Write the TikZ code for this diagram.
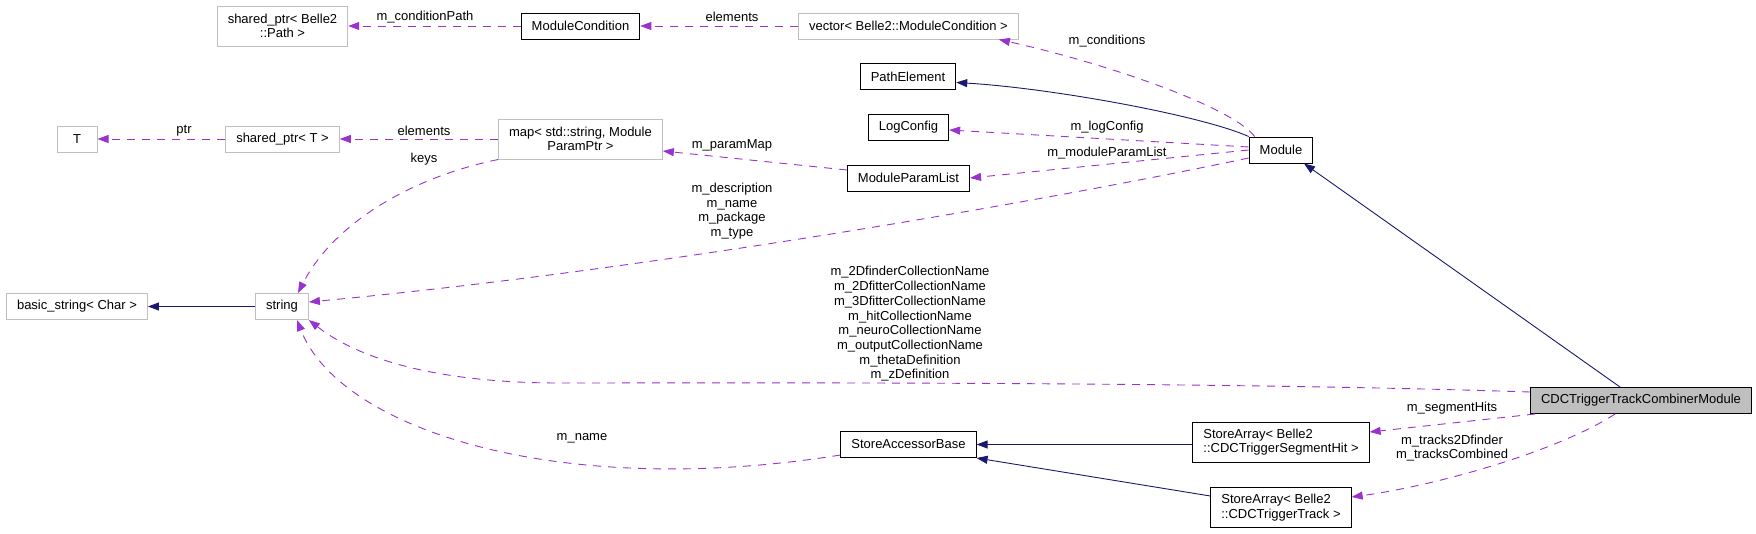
\documentclass[tikz,border=0pt]{standalone}
\usepackage{fontspec}
\setmainfont{Liberation Sans}
\usetikzlibrary{arrows.meta}

\definecolor{usecol}{RGB}{154,50,205}
\definecolor{inhcol}{RGB}{25,25,112}
\definecolor{extcol}{RGB}{191,191,191}

\begin{document}
\begin{tikzpicture}[x=1pt,y=-1pt,
    every node/.style={font=\fontsize{13}{14.7}\selectfont},
    cls/.style={draw=black,line width=1pt,inner xsep=10.5pt,inner ysep=3pt,
      minimum height=26pt,minimum width=40pt},
    ext/.style={cls,draw=extcol},
    main/.style={cls,fill=extcol},
    tall/.style={minimum height=40pt,align=center},
    memberedge/.style={usecol,line width=0.9pt,dash pattern=on 8pt off 7pt,
      -{Triangle[length=11pt,width=8pt]}},
    baseedge/.style={inhcol,line width=0.9pt,-{Triangle[length=11pt,width=8pt]}},
    lbl/.style={inner sep=0pt,align=center}
  ]

    \useasboundingbox[fill=white] (0,0) rectangle (1756,533);

    % ---- Classes ----
    \node[ext,tall] (pathptr) at (282.5,26) {shared\_ptr< Belle2\\::Path >};
    \node[cls] (modcond) at (580.5,26) {ModuleCondition};
    \node[ext] (condvec) at (908.5,26) {vector< Belle2::ModuleCondition >};
    \node[cls] (pathelem) at (908,76.5) {PathElement};
    \node[cls] (logcfg) at (908.5,127.5) {LogConfig};
    \node[cls] (module) at (1281,150) {Module};
    \node[ext] (tnode) at (77,139) {T};
    \node[ext] (tptr) at (282.5,139) {shared\_ptr< T >};
    \node[ext,tall] (parammap) at (580.5,139) {map< std::string, Module\\ParamPtr >};
    \node[cls] (paramlist) at (908.5,178) {ModuleParamList};
    \node[ext] (basicstr) at (77,306.5) {basic\_string< Char >};
    \node[ext] (stringnode) at (282,306.5) {string};
    \node[cls] (accessor) at (908.5,444.5) {StoreAccessorBase};
    \node[cls,tall,align=left] (segarray) at (1281,442) {StoreArray< Belle2\\::CDCTriggerSegmentHit >};
    \node[cls,tall,align=left] (trackarray) at (1281,507.5) {StoreArray< Belle2\\::CDCTriggerTrack >};
    \node[main] (combiner) at (1641,400.5) {CDCTriggerTrackCombinerModule};

    % ---- Heritage ----
    \draw[baseedge] (module.north west) .. controls (1200,115) and (1050,88) .. ([yshift=-6pt]pathelem.east);
    \draw[baseedge] ([xshift=-21pt]combiner.north) -- ([xshift=23pt]module.south);
    \draw[baseedge] (segarray.west |- accessor.east) -- (accessor.east);
    \draw[baseedge] ([yshift=11.5pt]trackarray.west) -- (accessor.south east);
    \draw[baseedge] (stringnode.west) -- (basicstr.east);

    % ---- Membres ----
    \foreach \src/\dst in {modcond/pathptr, condvec/modcond, parammap/tptr, tptr/tnode, module/paramlist}{
        \draw[memberedge] (\src.west) -- (\dst.east);
    }
    \draw[memberedge] ([xshift=6pt]module.north west) .. controls (1230,105) and (1100,62) .. ([xshift=-20pt]condvec.south east);
    \draw[memberedge] ([yshift=3pt]module.west) -- ([yshift=-2.5pt]logcfg.east);
    \draw[memberedge] ([yshift=8pt]paramlist.west) -- ([yshift=-12pt]parammap.east);
    \draw[memberedge] (parammap.south west) .. controls (400,180) and (330,230) .. ([xshift=16pt]stringnode.north);
    \draw[memberedge] ([yshift=-8pt]module.west) .. controls (1050,200) and (650,270) .. ([yshift=4.5pt]stringnode.east);
    \draw[memberedge] ([yshift=8.5pt]combiner.west) .. controls (1200,381) and (700,383) .. (560,383)
        .. controls (440,383) and (360,360) .. (stringnode.south east);
    \draw[memberedge] ([yshift=-10.5pt]accessor.west) .. controls (560,500) and (340,430) .. ([xshift=15pt]stringnode.south);
    \draw[memberedge] ([xshift=-106pt]combiner.south) -- ([yshift=10pt]segarray.east);
    \draw[memberedge] ([xshift=-26pt]combiner.south) .. controls (1560,450) and (1440,485) .. ([yshift=10.5pt]trackarray.east);

    % ---- Etiquettes ----
    \node[lbl] (lcondpath) at (425,17) {m\_conditionPath};
    \node[lbl] (lcondelem) at (732,17) {elements};
    \node[lbl] (lconds) at (1107,41) {m\_conditions};
    \node[lbl] (llogcfg) at (1107,127) {m\_logConfig};
    \node[lbl] (lparamlist) at (1107,153) {m\_moduleParamList};
    \node[lbl] (lparammap) at (732,145) {m\_paramMap};
    \node[lbl] (lmapelem) at (424,131) {elements};
    \node[lbl] (lptr) at (184,131) {ptr};
    \node[lbl] (lkeys) at (424,159) {keys};
    \node[lbl] (ldescr) at (732,211) {m\_description\\m\_name\\m\_package\\m\_type};
    \node[lbl] (lcollections) at (910,324) {m\_2DfinderCollectionName\\m\_2DfitterCollectionName\\m\_3DfitterCollectionName\\m\_hitCollectionName\\m\_neuroCollectionName\\m\_outputCollectionName\\m\_thetaDefinition\\m\_zDefinition};
    \node[lbl] (lname) at (582,438) {m\_name};
    \node[lbl] (lseghits) at (1452,408) {m\_segmentHits};
    \node[lbl] (ltracks) at (1452,448) {m\_tracks2Dfinder\\m\_tracksCombined};

\end{tikzpicture}
\end{document}
